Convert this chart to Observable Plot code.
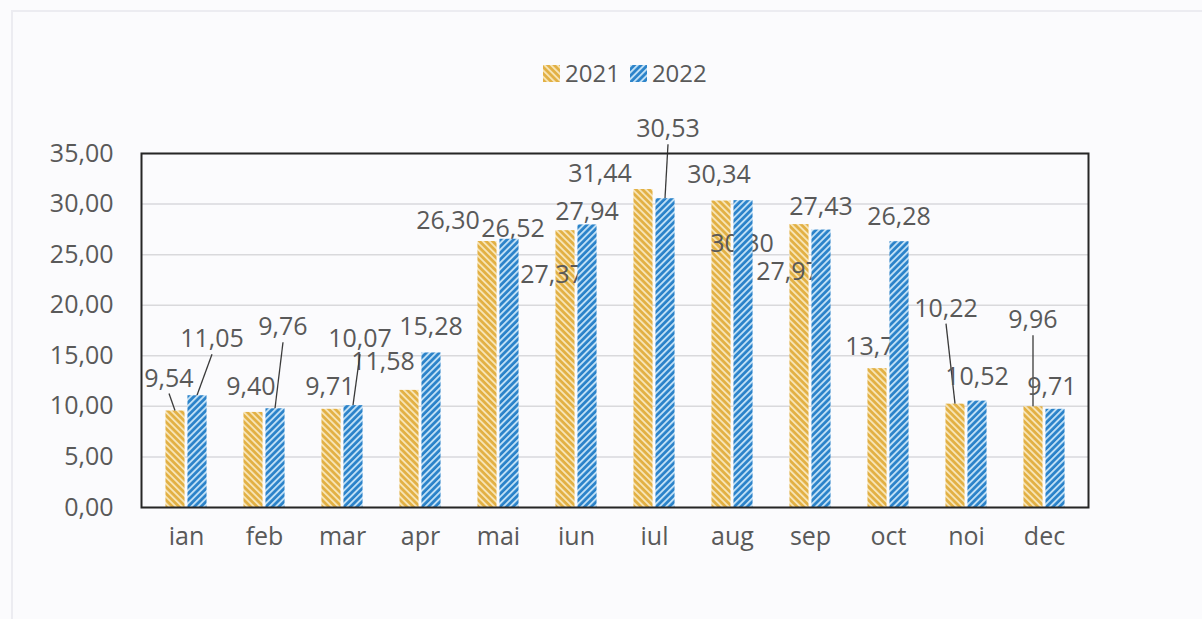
<!DOCTYPE html>
<html>
<head>
<meta charset="utf-8">
<script src="https://cdn.jsdelivr.net/npm/d3@7"></script>
<script src="https://cdn.jsdelivr.net/npm/@observablehq/plot@0.6"></script>
<style>
  html, body { margin: 0; padding: 0; background: #fbfbfd; }
  body { width: 1202px; height: 619px; overflow: hidden; position: relative; font-family: "Open Sans", sans-serif; }
  #pageEdge { position: absolute; left: 11px; top: 10px; right: 0; bottom: 0; border-left: 2px solid #ececf1; border-top: 2px solid #ececf1; pointer-events: none; }
  #legend { position: relative; height: 100px; }
  #legendInner { position: absolute; left: 543px; top: 58px; display: flex; align-items: center; color: #595959; font-size: 24px; line-height: 30px; }
  .item { display: flex; align-items: center; margin-right: 10px; }
  .item svg { margin-right: 5px; }
  #chart { position: relative; }
</style>
</head>
<body>
<svg width="0" height="0" style="position:absolute">
  <defs>
    <pattern id="hatch2021" patternUnits="userSpaceOnUse" width="4.6" height="4.6" patternTransform="rotate(-45)">
      <rect width="4.6" height="4.6" fill="#E2B043"></rect>
      <rect width="1.9" height="4.6" fill="#F7E4B5"></rect>
    </pattern>
    <pattern id="hatch2022" patternUnits="userSpaceOnUse" width="4.6" height="4.6" patternTransform="rotate(45)">
      <rect width="4.6" height="4.6" fill="#2A82C9"></rect>
      <rect width="1.9" height="4.6" fill="#BFDFF5"></rect>
    </pattern>
  </defs>
</svg>
<div id="pageEdge"></div>
<div id="legend"><div id="legendInner"></div></div>
<div id="chart"></div>
<script>
// ---- data ----
const months = ["ian", "feb", "mar", "apr", "mai", "iun", "iul", "aug", "sep", "oct", "noi", "dec"];
const series = ["2021", "2022"];
const values2021 = [9.54, 9.40, 9.71, 11.58, 26.30, 27.37, 31.44, 30.30, 27.97, 13.73, 10.22, 9.96];
const values2022 = [11.05, 9.76, 10.07, 15.28, 26.52, 27.94, 30.53, 30.34, 27.43, 26.28, 10.52, 9.71];
const yTicks = [0, 5, 10, 15, 20, 25, 30, 35];

// ---- label placement (manual nudges of the data labels, as in the original) ----
const labelNudge2021 = [[-6,-8],[-2,-1],[-1,2],[-26,-4],[-39,4],[-13,69],[-43,9],[21,67],[-11,72],[0,3],[-9,-71],[0,-62]];
const labelNudge2022 = [[15,-32],[8,-57],[7,-42],[0,-1],[4,14],[0,12],[3,-45],[-24,-1],[0,1],[0,0],[0,0],[-3,2]];
const leader2021 = [true,false,false,false,false,false,false,false,false,false,true,true];
const leader2022 = [true,true,true,false,false,false,true,false,false,false,false,false];

const fmt = v => v.toFixed(2).replace(".", ",");
const textColor = "#595959";
const fontSize = 25;
const fillFor = {"2021": "url(#hatch2021)", "2022": "url(#hatch2022)"};

// legend
const legendInner = document.getElementById("legendInner");
for (const s of series) {
  const item = document.createElement("div");
  item.className = "item";
  item.innerHTML = `<svg width="17" height="17"><rect width="17" height="17" fill="${fillFor[s]}"></rect></svg><span>${s}</span>`;
  legendInner.appendChild(item);
}

const data2021 = months.map((m, i) => ({month: m, value: values2021[i]}));
const data2022 = months.map((m, i) => ({month: m, value: values2022[i]}));

const width = 1202, marginLeft = 141, marginRight = 114;
const bandwidth = (width - marginLeft - marginRight) / months.length;
const barW = 20, barShift = 11;
const inset = (bandwidth - barW) / 2;

function labelsMark(index, scales) {
  const x = scales.x, y = scales.y;
  const bw = x.bandwidth ? x.bandwidth() : bandwidth;
  const g = d3.create("svg:g");
  const groups = [
    {vals: values2021, nudge: labelNudge2021, lead: leader2021, shift: -barShift},
    {vals: values2022, nudge: labelNudge2022, lead: leader2022, shift: barShift}
  ];
  for (const grp of groups) {
    months.forEach((m, i) => {
      const v = grp.vals[i];
      const cx = x(m) + bw / 2 + grp.shift;
      const top = y(v);
      const lx = cx + grp.nudge[i][0];
      const ly = top - 26 + grp.nudge[i][1];
      if (grp.lead[i]) {
        g.append("line")
          .attr("x1", cx).attr("y1", top)
          .attr("x2", lx).attr("y2", ly + 17)
          .attr("stroke", "#3a3a3a").attr("stroke-width", 1.3);
      }
      g.append("text")
        .attr("x", lx).attr("y", ly)
        .attr("text-anchor", "middle")
        .attr("dominant-baseline", "central")
        .attr("fill", textColor)
        .attr("font-size", fontSize)
        .text(fmt(v));
    });
  }
  return g.node();
}

const chart = Plot.plot({
  width,
  height: 467,
  marginTop: 53,
  marginBottom: 60,
  marginLeft,
  marginRight,
  style: {fontFamily: "'Open Sans', sans-serif", fontSize: fontSize + "px", color: textColor, background: "transparent", overflow: "visible"},
  x: {domain: months, padding: 0, label: null, tickSize: 0, tickPadding: 20},
  y: {domain: [0, 35], ticks: yTicks, tickFormat: fmt, label: null, tickSize: 0, tickPadding: 28},
  marks: [
    Plot.ruleY(yTicks, {stroke: "#d9d9dc", strokeWidth: 1.5}),
    Plot.barY(data2021, {x: "month", y: "value", fill: fillFor["2021"], insetLeft: inset, insetRight: inset, dx: -barShift}),
    labelsMark,
    Plot.barY(data2022, {x: "month", y: "value", fill: fillFor["2022"], insetLeft: inset, insetRight: inset, dx: barShift}),
    Plot.frame({stroke: "#262626", strokeWidth: 2})
  ]
});
document.getElementById("chart").appendChild(chart);
</script>
</body>
</html>
